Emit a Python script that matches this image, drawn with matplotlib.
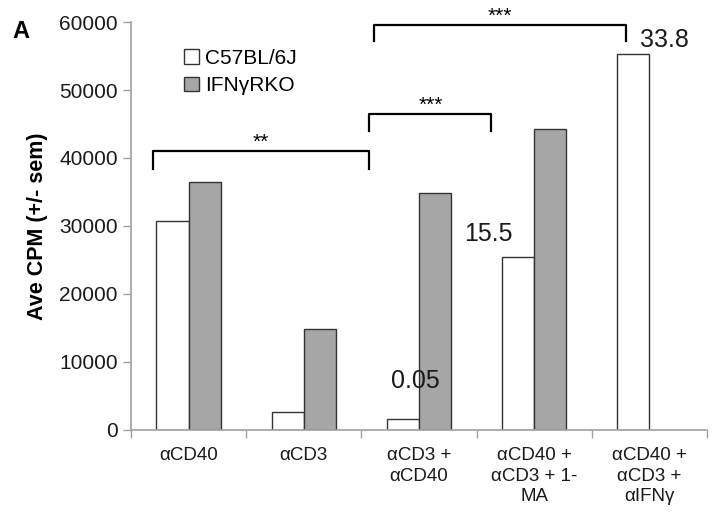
import matplotlib
matplotlib.use("Agg")
import matplotlib.pyplot as plt
import numpy as np

plt.rcParams['font.family'] = ['Liberation Sans', 'DejaVu Sans']

categories = ["αCD40", "αCD3", "αCD3 +\nαCD40", "αCD40 +\nαCD3 + 1-\nMA", "αCD40 +\nαCD3 +\nαIFNγ"]
c57_values = [30700, 2700, 1600, 25400, 55300]
ifng_values = [36500, 14800, 34800, 44200, 0]
series_names = ["C57BL/6J", "IFNγRKO"]
annot_labels = ["0.05", "15.5", "33.8"]
annot_pos = [(1.97, 7200), (2.60, 28800), (4.13, 57400)]
brackets = [(-0.31, 1.57, 38400, 41000, "**"),
            (1.57, 2.63, 43900, 46400, "***"),
            (1.61, 3.80, 57200, 59600, "***")]

fig = plt.figure(figsize=(7.14, 5.18), dpi=100)
ax = fig.add_axes([0.1835, 0.170, 0.8065, 0.7875])

x = np.arange(len(categories))
w = 0.28
ax.bar(x - w/2, c57_values, w, color='white', edgecolor='#333333', linewidth=1.0,
       label=series_names[0], zorder=2)
ifng_plot = [v if v > 0 else np.nan for v in ifng_values]
ax.bar(x + w/2, ifng_plot, w, color='#a6a6a6', edgecolor='#333333', linewidth=1.0,
       label=series_names[1], zorder=2)

ax.set_xlim(-0.5, len(categories) - 0.5)
ax.set_ylim(0, 60000)
ax.set_yticks(np.arange(0, 60001, 10000))
ax.tick_params(axis='y', labelsize=15, colors='#a0a0a0', labelcolor='#1a1a1a', length=6, width=1)
ax.set_xticks(np.arange(-0.5, len(categories), 1.0), minor=False)
ax.set_xticklabels([])
ax.set_xticks(x, minor=True)
ax.set_xticklabels(categories, minor=True, fontsize=13.5, color='#1a1a1a', linespacing=1.3)
ax.tick_params(axis='x', which='major', length=6, width=1, colors='#a0a0a0', direction='out')
ax.tick_params(axis='x', which='minor', length=0, pad=12)
for s in ['top', 'right']:
    ax.spines[s].set_visible(False)
for s in ['left', 'bottom']:
    ax.spines[s].set_color('#a0a0a0')
    ax.spines[s].set_linewidth(1.2)

ax.set_ylabel("Ave CPM (+/- sem)", fontsize=15.5, fontweight='bold', labelpad=8)

for (x0, x1, yb, yt, lab) in brackets:
    ax.plot([x0, x0, x1, x1], [yb, yt, yt, yb], color='black', linewidth=1.6,
            clip_on=False, zorder=3)
    ax.text((x0 + x1) / 2, yt + 1300, lab, ha='center', va='center', fontsize=15,
            clip_on=False)

for lab, (px, py) in zip(annot_labels, annot_pos):
    ax.text(px, py, lab, ha='center', va='center', fontsize=18, color='#1a1a1a')

leg = ax.legend(loc='upper left', bbox_to_anchor=(0.06, 0.98), frameon=False,
                fontsize=15, handlelength=0.7, handleheight=0.7, handletextpad=0.3,
                labelspacing=0.4)

fig.text(0.018, 0.94, "A", fontsize=17, fontweight='bold', ha='left', va='center')

fig.savefig("out.png", dpi=100)
